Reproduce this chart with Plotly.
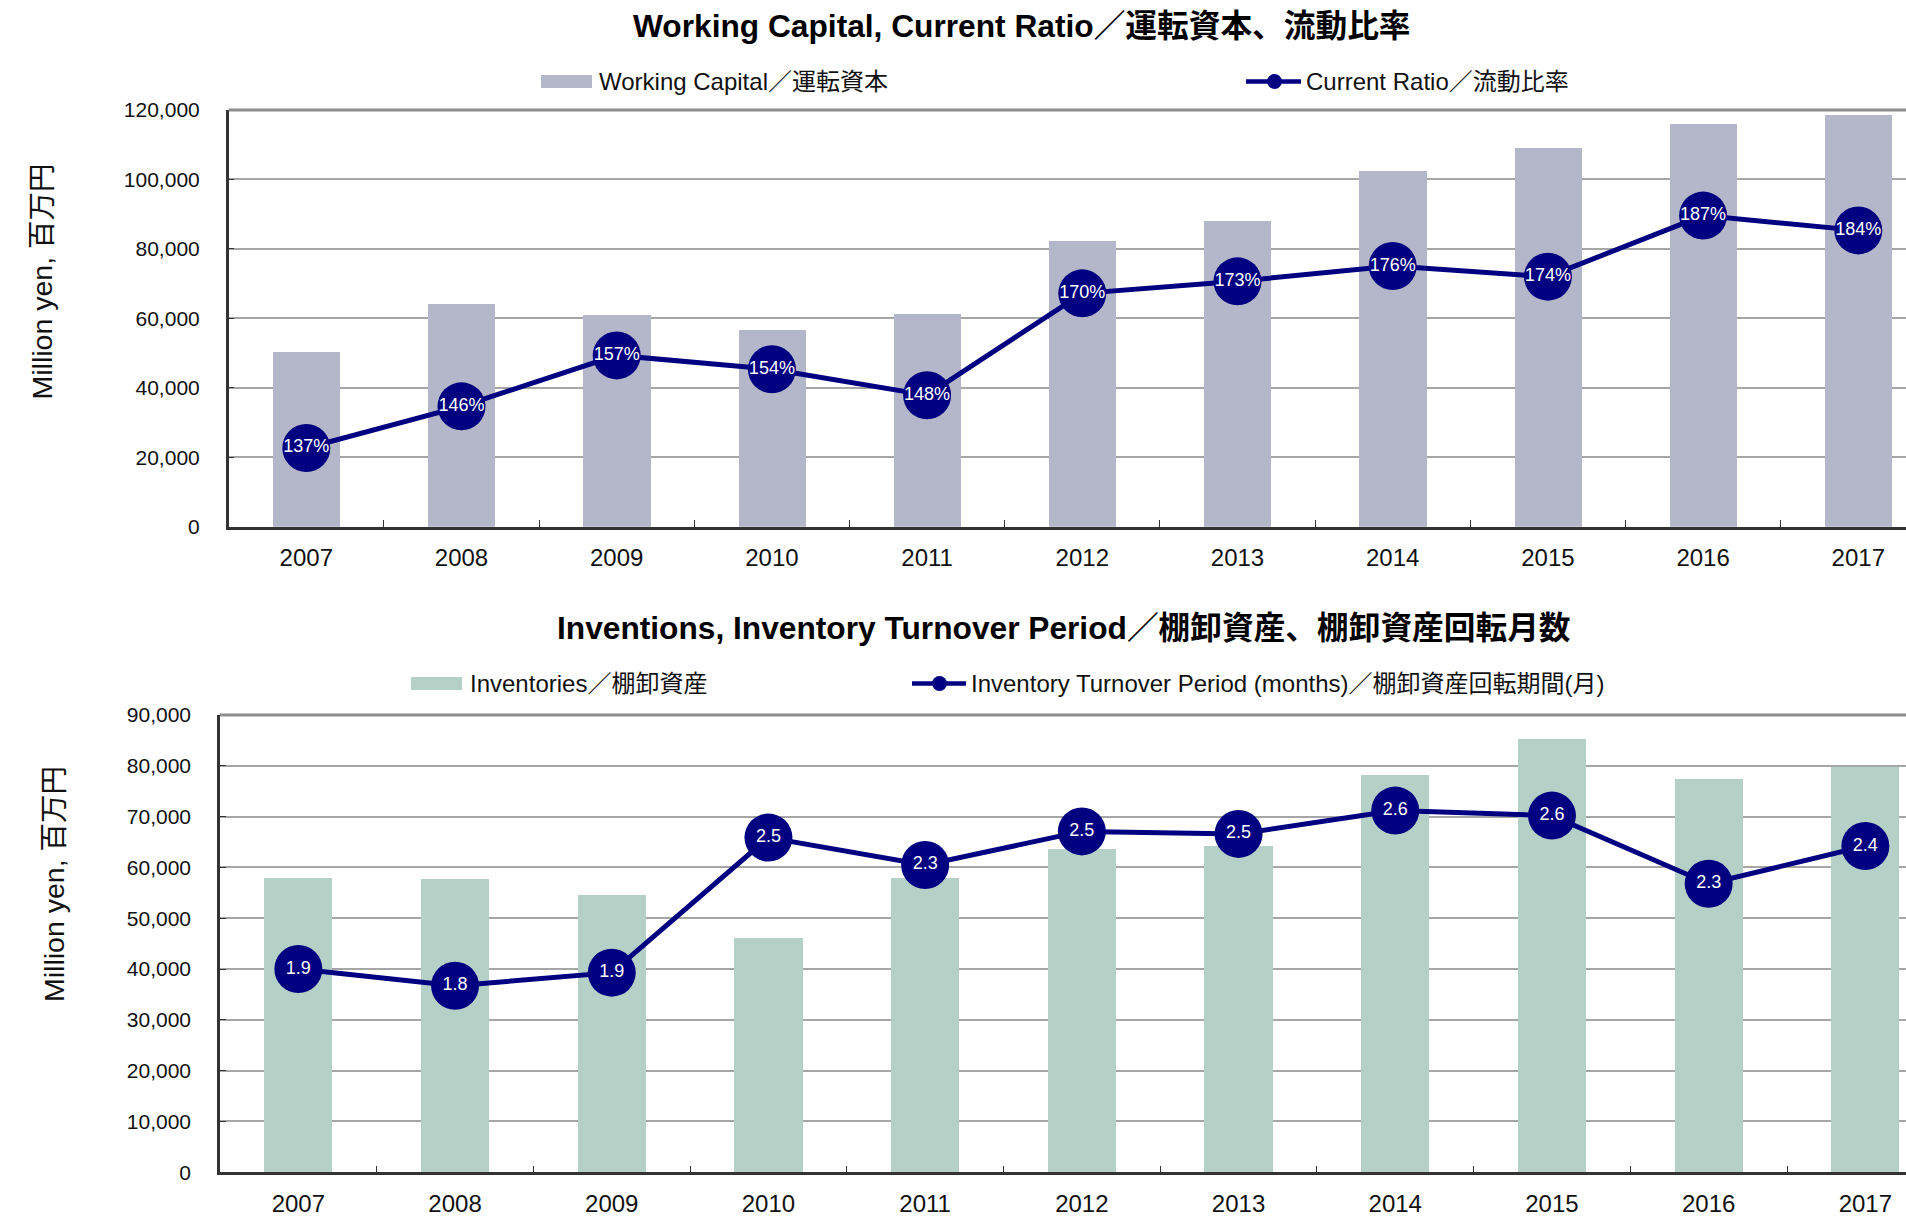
import plotly.graph_objects as go

# ---------------- data ----------------
years = ["2007", "2008", "2009", "2010", "2011", "2012", "2013", "2014", "2015", "2016", "2017"]
working_capital = [50300, 64200, 60900, 56600, 61300, 82300, 88000, 102400, 109100, 115900, 118600]
current_ratio = [1.37, 1.46, 1.57, 1.54, 1.484, 1.704, 1.73, 1.763, 1.74, 1.872, 1.84]
inventories = [58000, 57800, 54600, 46100, 58000, 63600, 64200, 78200, 85300, 77400, 79800]
turnover_months = [1.889, 1.816, 1.873, 2.464, 2.344, 2.491, 2.480, 2.582, 2.560, 2.262, 2.427]
wc_ticks = [0, 20000, 40000, 60000, 80000, 100000, 120000]
inv_ticks = [0, 10000, 20000, 30000, 40000, 50000, 60000, 70000, 80000, 90000]

title_top = "Working Capital, Current Ratio／運転資本、流動比率"
title_bottom = "Inventions, Inventory Turnover Period／棚卸資産、棚卸資産回転月数"
name_wc = "Working Capital／運転資本"
name_cr = "Current Ratio／流動比率"
name_inv = "Inventories／棚卸資産"
name_turn = "Inventory Turnover Period (months)／棚卸資産回転期間(月)"
ytitle = "Million yen, 百万円"

# ---------------- style ----------------
OFF = 0
W, H = 1906, 1218
FONT = "Liberation Sans, Arial, Noto Sans CJK JP, sans-serif"
BAR1 = "#b4b6c9"
BAR2 = "#b5d1c7"
NAVY = "#000080"
GRID = "#a6a6a6"
AXIS = "#333333"


def px(x):
    return (x - OFF) / W


def py(y):
    return 1 - (y - OFF) / H


fig = go.Figure()

fig.add_trace(go.Bar(x=years, y=working_capital, name=name_wc, marker=dict(color=BAR1, line=dict(width=0)),
                     width=0.432, xaxis="x", yaxis="y", showlegend=False))
fig.add_trace(go.Scatter(x=years, y=current_ratio, name=name_cr, mode="lines+markers+text",
                         line=dict(color=NAVY, width=5), marker=dict(color=NAVY, size=48),
                         texttemplate="%{y:.0%}", textposition="middle center",
                         textfont=dict(color="white", size=18, family=FONT),
                         xaxis="x", yaxis="y2", showlegend=False, cliponaxis=False))
fig.add_trace(go.Bar(x=years, y=inventories, name=name_inv, marker=dict(color=BAR2, line=dict(width=0)),
                     width=0.435, xaxis="x2", yaxis="y3", showlegend=False))
fig.add_trace(go.Scatter(x=years, y=turnover_months, name=name_turn, mode="lines+markers+text",
                         line=dict(color=NAVY, width=5), marker=dict(color=NAVY, size=48),
                         texttemplate="%{y:.1f}", textposition="middle center",
                         textfont=dict(color="white", size=18, family=FONT),
                         xaxis="x2", yaxis="y4", showlegend=False, cliponaxis=False))

xcommon = dict(type="category", showgrid=False, showline=True, linecolor=AXIS, linewidth=2.5,
               ticks="inside", tickson="boundaries", ticklen=7, tickcolor=AXIS, tickwidth=1.2,
               tickfont=dict(size=24, color="#111", family=FONT), ticklabelstandoff=8,
               automargin=False, zeroline=False)
ycommon = dict(showgrid=True, gridcolor=GRID, gridwidth=1.5, showline=True, linecolor=AXIS, linewidth=2.5,
               ticks="inside", ticklen=6, tickcolor=AXIS, tickformat=",", zeroline=False,
               tickfont=dict(size=21, color="#111", family=FONT), ticklabelstandoff=22,
               automargin=False)

top_y0, top_y1 = 526.7, 110
bot_y0, bot_y1 = 1172.3, 715
top_left, bot_left = 228.7, 220
top_step, bot_step = 155.2, 156.7
RIGHT = 1906

fig.update_layout(
    width=W, height=H,
    margin=dict(l=0, r=0, t=0, b=0),
    paper_bgcolor="white", plot_bgcolor="white",
    font=dict(family=FONT, color="#111"),
    showlegend=False,
    bargap=0,
    xaxis=dict(domain=[px(top_left), 1], anchor="y",
               range=[-0.5, -0.5 + (RIGHT - top_left) / top_step], **xcommon),
    yaxis=dict(domain=[py(top_y0), py(top_y1)], anchor="x", range=[0, 120000], tickvals=wc_ticks, **ycommon),
    yaxis2=dict(overlaying="y", anchor="x", range=[1.2, 2.1], visible=False),
    xaxis2=dict(domain=[px(bot_left), 1], anchor="y3",
                range=[-0.5, -0.5 + (RIGHT - bot_left) / bot_step], **xcommon),
    yaxis3=dict(domain=[py(bot_y0), py(bot_y1)], anchor="x2", range=[0, 90000], tickvals=inv_ticks, **ycommon),
    yaxis4=dict(overlaying="y3", anchor="x2", range=[1.0, 3.0], visible=False),
)

shapes = [
    # top borders of the plot areas
    dict(type="line", xref="x domain", yref="y domain", x0=0, x1=1, y0=1, y1=1,
         line=dict(color="#8c8c8c", width=3)),
    dict(type="line", xref="x2 domain", yref="y3 domain", x0=0, x1=1, y0=1, y1=1,
         line=dict(color="#8c8c8c", width=3)),
    # legend swatches
    dict(type="rect", xref="paper", yref="paper", x0=px(541), x1=px(592), y0=py(88), y1=py(75),
         fillcolor=BAR1, line=dict(width=0)),
    dict(type="line", xref="paper", yref="paper", x0=px(1246), x1=px(1301), y0=py(81.5), y1=py(81.5),
         line=dict(color=NAVY, width=4.5)),
    dict(type="circle", xref="paper", yref="paper", x0=px(1267), x1=px(1282), y0=py(89), y1=py(74),
         fillcolor=NAVY, line=dict(width=0)),
    dict(type="rect", xref="paper", yref="paper", x0=px(411), x1=px(462), y0=py(690), y1=py(677),
         fillcolor=BAR2, line=dict(width=0)),
    dict(type="line", xref="paper", yref="paper", x0=px(912), x1=px(966), y0=py(683.5), y1=py(683.5),
         line=dict(color=NAVY, width=4.5)),
    dict(type="circle", xref="paper", yref="paper", x0=px(932), x1=px(947), y0=py(691), y1=py(676),
         fillcolor=NAVY, line=dict(width=0)),
]
fig.update_layout(shapes=shapes)

ann = []
ann.append(dict(text=f"<b>{title_top}</b>", x=px(1022), y=py(25.5), xref="paper", yref="paper",
                xanchor="center", yanchor="middle", showarrow=False, font=dict(size=31.7, color="#000", family=FONT)))
ann.append(dict(text=f"<b>{title_bottom}</b>", x=px(1064), y=py(628), xref="paper", yref="paper",
                xanchor="center", yanchor="middle", showarrow=False, font=dict(size=31.7, color="#000", family=FONT)))
for txt, x, y in [(name_wc, 597, 81.5), (name_cr, 1304, 81.5), (name_inv, 468, 683.5), (name_turn, 969, 683.5)]:
    ann.append(dict(text=txt, x=px(x), y=py(y), xref="paper", yref="paper", xanchor="left", yanchor="middle",
                    showarrow=False, font=dict(size=24, color="#111", family=FONT)))
for x, y in [(42, 281.5), (54, 884)]:
    ann.append(dict(text=ytitle, x=px(x), y=py(y), xref="paper", yref="paper", xanchor="center",
                    yanchor="middle", textangle=-90, showarrow=False, font=dict(size=28.5, color="#111", family=FONT)))
fig.update_layout(annotations=ann)

fig.write_html("out.html",
               config={"displayModeBar": False},
               post_script="document.body.style.margin='0';document.body.style.overflow='hidden';")
